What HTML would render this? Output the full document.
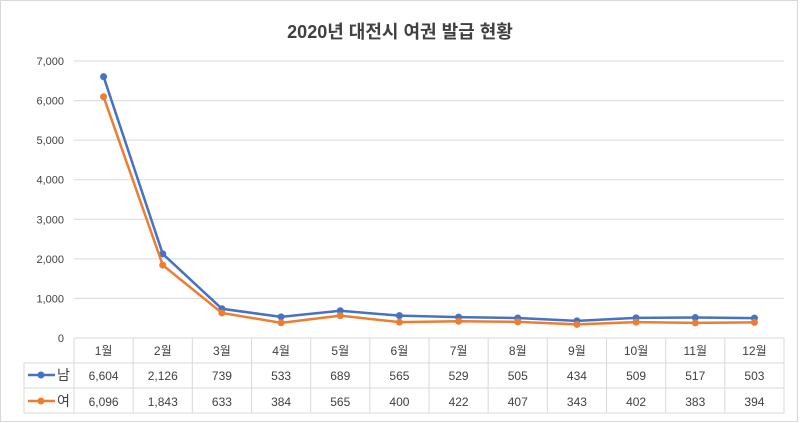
<!DOCTYPE html>
<html><head><meta charset="utf-8"><style>
body{margin:0;background:#fff;}
svg{display:block;font-family:"Liberation Sans","Noto Sans CJK KR",sans-serif;}
</style></head><body>
<svg id="c" width="800" height="423" xmlns="http://www.w3.org/2000/svg">
<rect x="0.5" y="0.5" width="797" height="421" fill="#fff" stroke="#d9d9d9"/>
<text x="400" y="38" text-anchor="middle" font-size="18" font-weight="bold" fill="#404040">2020년 대전시 여권 발급 현황</text>
<g id="grid"></g><g id="table"></g><g id="series"></g>
</svg>
<script>
const months=["1월","2월","3월","4월","5월","6월","7월","8월","9월","10월","11월","12월"];
const male=[6604,2126,739,533,689,565,529,505,434,509,517,503];
const female=[6096,1843,633,384,565,400,422,407,343,402,383,394];
const yTicks=[0,1000,2000,3000,4000,5000,6000,7000];
const yTickLabels=["0","1,000","2,000","3,000","4,000","5,000","6,000","7,000"];
const seriesNames=["남","여"];
const NS="http://www.w3.org/2000/svg";
const L=74,R=784,Y0=338,Y7=61,cw=(R-L)/12;
const y=v=>Y0-(v/7000)*(Y0-Y7);
const x=i=>L+cw*(i+0.5);
function mk(t,a,p){const e=document.createElementNS(NS,t);for(const k in a)e.setAttribute(k,a[k]);p.appendChild(e);return e;}
const g=document.getElementById('grid'),tb=document.getElementById('table'),s=document.getElementById('series');
yTicks.forEach((v,i)=>{
 if(v>0){const l=mk('line',{x1:L,x2:R,y1:y(v),y2:y(v),stroke:'#d9d9d9'},g);
 
 }
 const t=mk('text',{x:64,y:y(v)+4,'text-anchor':'end','font-size':11,fill:'#404040'},g);
 t.textContent=yTickLabels[i];
 
 
});
// table grid
const rows=[338,363,388,413];
rows.forEach((ry,i)=>{const l=mk('line',{x1:i==0?L:24,x2:R,y1:ry,y2:ry,stroke:'#d9d9d9'},tb);
 
 });
mk('line',{x1:24,x2:24,y1:363,y2:413,stroke:'#d9d9d9'},tb);
for(let i=0;i<=12;i++){const l=mk('line',{x1:L+cw*i,x2:L+cw*i,y1:338,y2:413,stroke:'#d9d9d9'},tb);
 
 }
months.forEach((m,i)=>{
 const t=mk('text',{x:x(i),y:355,'text-anchor':'middle','font-size':12,fill:'#404040'},tb);t.textContent=m;
 
 
 const a=mk('text',{x:x(i),y:380,'text-anchor':'middle','font-size':12,fill:'#404040'},tb);a.textContent=male[i].toLocaleString('en-US');
 
 
 const b=mk('text',{x:x(i),y:406,'text-anchor':'middle','font-size':12,fill:'#404040'},tb);b.textContent=female[i].toLocaleString('en-US');
 
 
});
const cols=['#4472c4','#ed7d31'];
[male,female].forEach((d,k)=>{
 const ky=k==0?375:401;
 mk('line',{x1:28,x2:55,y1:ky,y2:ky,stroke:cols[k],'stroke-width':2.5},tb);
 mk('circle',{cx:41,cy:ky,r:3.5,fill:cols[k]},tb);
 const lt=mk('text',{x:57,y:ky+5,'font-size':14,fill:'#404040'},tb);lt.textContent=seriesNames[k];
 
 
 const p=mk('polyline',{points:d.map((v,i)=>x(i)+','+y(v)).join(' '),fill:'none',stroke:cols[k],'stroke-width':2.5},s);
 
 
 d.forEach((v,i)=>{const c=mk('circle',{cx:x(i),cy:y(v),r:3.5,fill:cols[k]},s);
 
 });
});
</script>
</body></html>
